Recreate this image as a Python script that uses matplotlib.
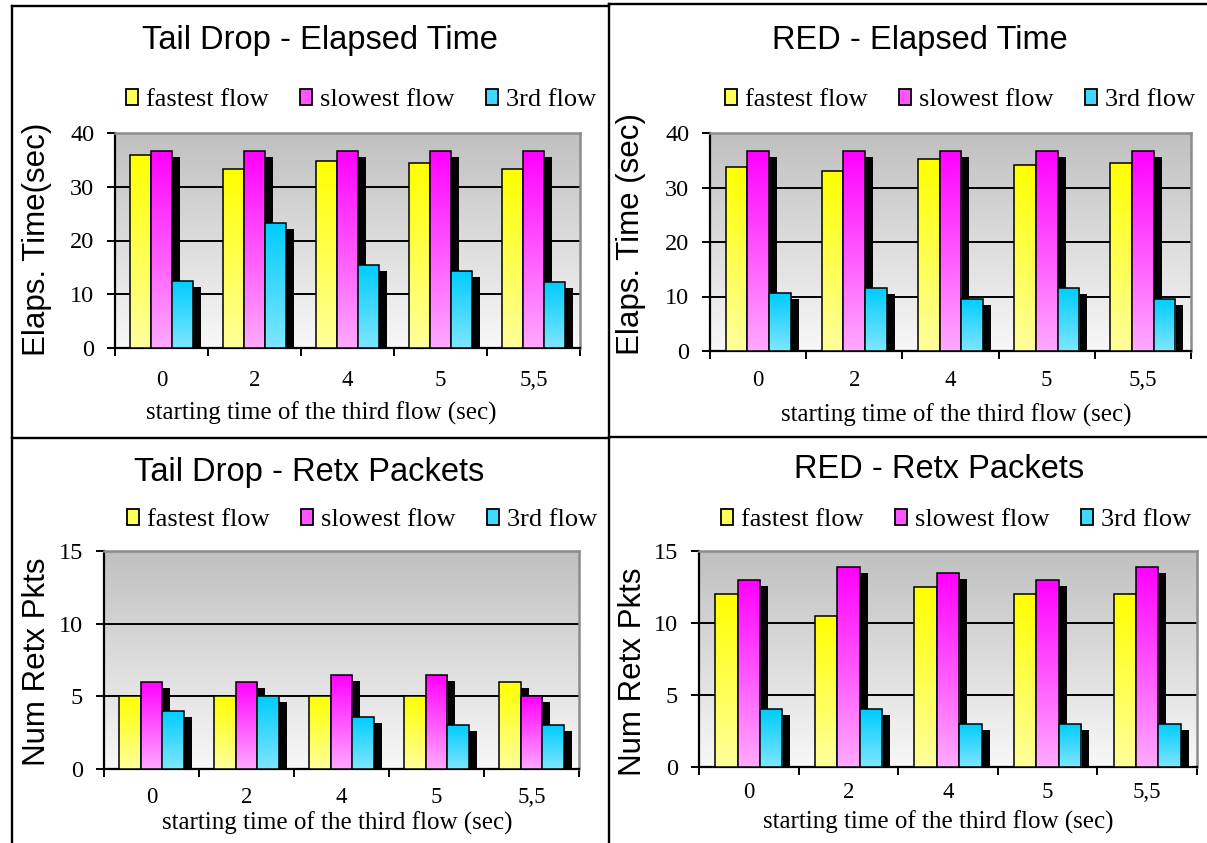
import numpy as np
import matplotlib
matplotlib.use('Agg')
import matplotlib.pyplot as plt
from matplotlib import transforms
from matplotlib.colors import LinearSegmentedColormap
from matplotlib.lines import Line2D
from matplotlib.patches import Rectangle
from matplotlib.transforms import Bbox

# Tamaño final en píxeles
W, H = 1207, 843

categories = ['0', '2', '4', '5', '5,5']
series_names = ['fastest flow', 'slowest flow', '3rd flow']

td_time_fastest = [36.0, 33.3, 34.8, 34.4, 33.3]
td_time_slowest = [36.7, 36.7, 36.7, 36.7, 36.7]
td_time_third = [12.5, 23.3, 15.5, 14.4, 12.2]

red_time_fastest = [33.7, 33.0, 35.2, 34.1, 34.5]
red_time_slowest = [36.7, 36.7, 36.7, 36.7, 36.7]
red_time_third = [10.6, 11.6, 9.6, 11.6, 9.6]

td_retx_fastest = [5, 5, 5, 5, 6]
td_retx_slowest = [6, 6, 6.5, 6.5, 5]
td_retx_third = [4, 5, 3.6, 3, 3]

red_retx_fastest = [12, 10.5, 12.5, 12, 12]
red_retx_slowest = [13, 13.9, 13.5, 13, 13.9]
red_retx_third = [4, 4, 3, 3, 3]

# Colores (arriba, abajo) del degradado de cada serie
SERIES_COLORS = [('#FFFF00', '#FFFF9C'), ('#FF00FF', '#FFAAFF'), ('#00CCFF', '#7EE6FF')]
LEGEND_COLORS = ['#FFFF55', '#FF55FF', '#40D8FF']

SANS = 'Liberation Sans'
SERIF = 'Liberation Serif'
BAR_W = 0.225


# Convierte coordenadas en píxeles (desde arriba) a fracción de figura
def fig_xy(x, y):
    return x / W, 1 - y / H


def axes_rect(left, top, right, bottom):
    return [left / W, 1 - bottom / H, (right - left) / W, (bottom - top) / H]


# Barras con degradado vertical y sombra negra desplazada
def gradient_bars(ax, x, heights, top_color, bottom_color, z):
    shadow_tr = transforms.offset_copy(ax.transData, fig=ax.figure, x=8, y=-6, units='dots')
    ax.bar(x, heights, BAR_W, color='black', linewidth=0, transform=shadow_tr, zorder=z)
    bars = ax.bar(x, heights, BAR_W, facecolor='none', edgecolor='black',
                  linewidth=1.1, zorder=z + 0.2)
    cmap = LinearSegmentedColormap.from_list('grad', [bottom_color, top_color])
    grad = np.linspace(0, 1, 256).reshape(-1, 1)
    for b in bars:
        x0, y0, w, h = b.get_x(), b.get_y(), b.get_width(), b.get_height()
        im = ax.imshow(grad, cmap=cmap, extent=[x0, x0 + w, y0, y0 + h], origin='lower',
                       aspect='auto', interpolation='bilinear', zorder=z + 0.1)
        im.set_clip_path(b)


def draw_panel(fig, rect, title, title_pos, ylabel, ylabel_pos, xlabel_pos, legend_pos,
               values, ymax, ystep, xtick_pad, ylabel_clip_top=None):
    ax = fig.add_axes(rect)
    x = np.arange(len(categories))

    # Fondo gris degradado del área de trazado
    bg = LinearSegmentedColormap.from_list('bg', ['#F8F8F8', '#C0C0C0'])
    ax.imshow(np.linspace(0, 1, 256).reshape(-1, 1), cmap=bg, origin='lower', aspect='auto',
              extent=[-0.5, len(categories) - 0.5, 0, ymax], zorder=0)

    for i, serie in enumerate(values):
        top_c, bot_c = SERIES_COLORS[i]
        gradient_bars(ax, x + (i - 1) * BAR_W, serie, top_c, bot_c, 3 + i)

    ax.set_xlim(-0.5, len(categories) - 0.5)
    ax.set_ylim(0, ymax)

    # Rejilla y ejes
    ax.set_axisbelow(True)
    ax.yaxis.grid(True, color='black', linewidth=1.4)
    ax.set_yticks(np.arange(0, ymax + 1, ystep))
    ax.set_yticklabels([str(v) for v in np.arange(0, ymax + 1, ystep)], fontfamily=SERIF, fontsize=17.5)
    ax.tick_params(axis='y', direction='out', length=6, width=1.4, pad=9)
    ax.set_xticks(np.arange(-0.5, len(categories), 1))
    ax.set_xticklabels([])
    ax.set_xticks(x, minor=True)
    ax.set_xticklabels(categories, minor=True, fontfamily=SERIF, fontsize=16.5)
    ax.tick_params(axis='x', which='major', direction='out', length=6, width=1.4)
    ax.tick_params(axis='x', which='minor', length=0, pad=xtick_pad)
    for side in ['left', 'bottom']:
        ax.spines[side].set_color('black')
        ax.spines[side].set_linewidth(1.6)
    for side in ['top', 'right']:
        ax.spines[side].set_color('#8C8C8C')
        ax.spines[side].set_linewidth(1.8)

    # Textos
    fig.text(*fig_xy(*title_pos), title, ha='center', va='center', fontfamily=SANS, fontsize=23.5)
    ax.set_xlabel('starting time of the third flow (sec)', fontfamily=SERIF, fontsize=18)
    ax.xaxis.set_label_coords(*fig_xy(*xlabel_pos), transform=fig.transFigure)
    ax.xaxis.label.set_va('center')
    ax.set_ylabel(ylabel, fontfamily=SANS, fontsize=22.5)
    ax.yaxis.set_label_coords(*fig_xy(*ylabel_pos), transform=fig.transFigure)
    ax.yaxis.label.set_va('center')
    if ylabel_clip_top is not None:
        ax.yaxis.label.set_clip_box(Bbox.from_extents(0, 0, W, H - ylabel_clip_top))
        ax.yaxis.label.set_clip_on(True)

    handles = [Rectangle((0, 0), 1, 1, facecolor=c, edgecolor='black', linewidth=1.3)
               for c in LEGEND_COLORS]
    ax.legend(handles, series_names, loc='center', bbox_to_anchor=fig_xy(*legend_pos),
              bbox_transform=fig.transFigure, ncol=3, frameon=False,
              prop={'family': SERIF, 'size': 19}, handlelength=0.45, handleheight=0.6,
              handletextpad=0.3, columnspacing=1.2, borderpad=0, borderaxespad=0)
    return ax


# Marcos negros de cada gráfico
def draw_frames(fig):
    segs = [
        ((12, 6), (609, 6)),
        ((609, 4), (1207, 4)),
        ((12, 6), (12, 843)),
        ((609, 4), (609, 843)),
        ((12, 438), (609, 438)),
        ((609, 437), (1207, 437)),
    ]
    for (x0, y0), (x1, y1) in segs:
        (fx0, fy0), (fx1, fy1) = fig_xy(x0, y0), fig_xy(x1, y1)
        fig.add_artist(Line2D([fx0, fx1], [fy0, fy1], transform=fig.transFigure,
                              color='black', linewidth=1.7, solid_capstyle='projecting'))


def main():
    fig = plt.figure(figsize=(W / 100, H / 100), dpi=100)
    fig.patch.set_facecolor('white')

    draw_panel(fig, axes_rect(115, 133, 580, 348), 'Tail Drop - Elapsed Time', (320, 40),
               'Elaps. Time(sec)', (37, 239), (321, 413), (361, 100),
               [td_time_fastest, td_time_slowest, td_time_third], 40, 10, 16)
    draw_panel(fig, axes_rect(710, 133, 1191, 351), 'RED - Elapsed Time', (920, 40),
               'Elaps. Time (sec)', (631, 234), (956, 415), (960, 100),
               [red_time_fastest, red_time_slowest, red_time_third], 40, 10, 14)
    draw_panel(fig, axes_rect(104, 551, 579, 769), 'Tail Drop - Retx Packets', (309, 472),
               'Num Retx Pkts', (37, 662), (337, 823), (362, 520),
               [td_retx_fastest, td_retx_slowest, td_retx_third], 15, 5, 13)
    draw_panel(fig, axes_rect(699, 551, 1197, 767), 'RED - Retx Packets', (939, 470),
               'Num Retx Pkts', (633, 672), (938, 822), (956, 520),
               [red_retx_fastest, red_retx_slowest, red_retx_third], 15, 5, 11,
               ylabel_clip_top=566)

    draw_frames(fig)
    fig.savefig('out.png', dpi=100)


if __name__ == "__main__":
    main()
